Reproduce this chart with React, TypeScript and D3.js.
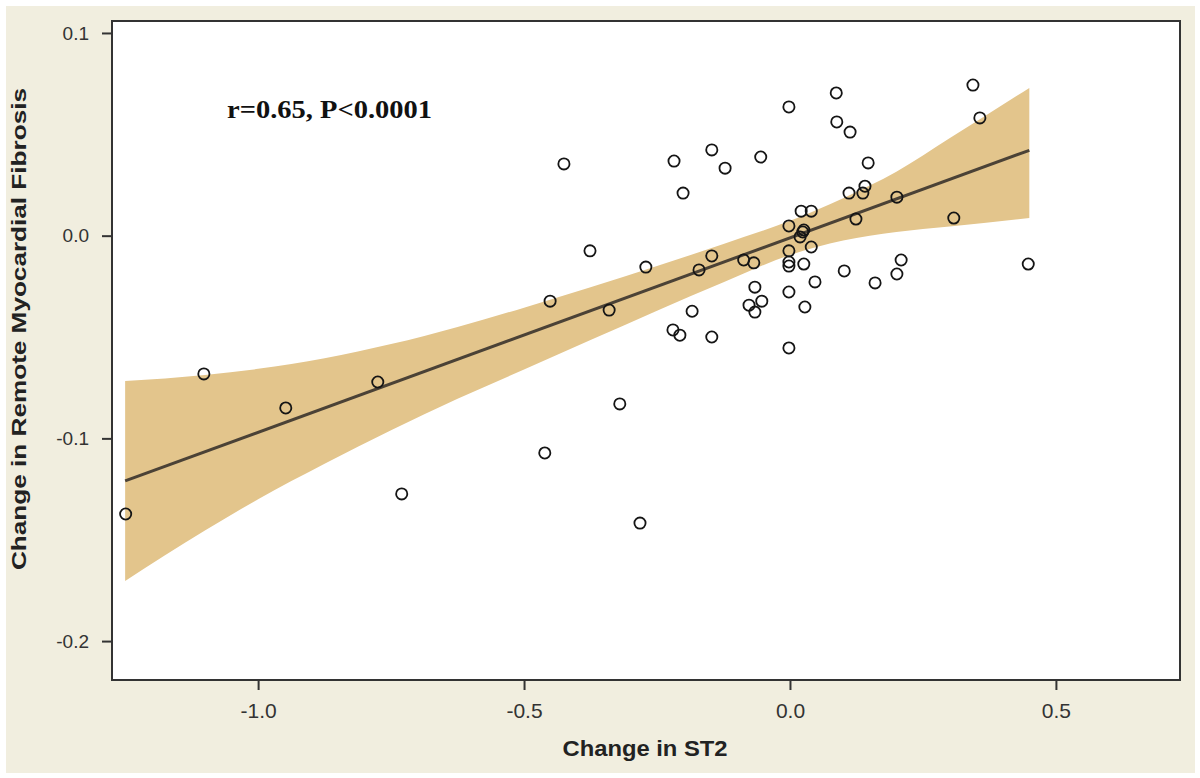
import React, { useRef, useEffect } from 'react';
import * as d3 from 'd3';

// scatter points: change in ST2 vs change in remote myocardial fibrosis
const st2Change = [
  -1.249, -1.102, -0.948, -0.775, -0.730, -0.461, -0.451, -0.425, -0.376, -0.340,
  -0.320, -0.282, -0.271, -0.218, -0.220, -0.207, -0.201, -0.184, -0.171, -0.147,
  -0.147, -0.147, -0.122, -0.087, -0.077, -0.068, -0.066, -0.066, -0.055, -0.053,
  -0.002, -0.002, -0.002, -0.002, -0.002, -0.002, -0.002, 0.021, 0.019, 0.024,
  0.026, 0.026, 0.028, 0.040, 0.040, 0.047, 0.087, 0.088, 0.102, 0.113,
  0.111, 0.124, 0.137, 0.141, 0.147, 0.160, 0.201, 0.201, 0.209, 0.308,
  0.344, 0.357, 0.448,
];
const fibrosisChange = [
  -0.1373, -0.0682, -0.0850, -0.0722, -0.1274, -0.1072, -0.0323, 0.0354, -0.0075, -0.0367,
  -0.0830, -0.1418, -0.0155, 0.0368, -0.0465, -0.0491, 0.0210, -0.0373, -0.0169, 0.0423,
  -0.0100, -0.0500, 0.0333, -0.0120, -0.0343, -0.0134, -0.0254, -0.0377, 0.0388, -0.0323,
  0.0635, 0.0048, -0.0075, -0.0130, -0.0150, -0.0278, -0.0554, 0.0121, -0.0006, 0.0018,
  0.0028, -0.0140, -0.0352, 0.0121, -0.0056, -0.0228, 0.0704, 0.0561, -0.0174, 0.0511,
  0.0210, 0.0082, 0.0210, 0.0244, 0.0359, -0.0233, 0.0190, -0.0189, -0.0120, 0.0087,
  0.0743, 0.0581, -0.0140,
];

// fitted line end points
const fitX = [-1.25, 0.45];
const fitY = [-0.121, 0.0421];

// 95% confidence band
const bandX = [-1.25, -1.1, -1.0, -0.875, -0.75, -0.625, -0.5, -0.375, -0.25, -0.125, 0, 0.1, 0.2, 0.3, 0.45];
const bandUpper = [-0.0717, -0.0687, -0.0657, -0.0605, -0.0535, -0.0450, -0.0355, -0.0255, -0.0150, -0.0041, 0.0073, 0.0185, 0.0315, 0.0480, 0.0729];
const bandLower = [-0.1703, -0.1455, -0.1300, -0.1125, -0.0960, -0.0805, -0.0660, -0.0515, -0.0370, -0.0230, -0.0095, -0.0024, 0.0018, 0.0045, 0.0087];

const xTicks = [-1.0, -0.5, 0.0, 0.5];
const yTicks = [0.1, 0.0, -0.1, -0.2];

const App: React.FC = () => {
  const svgRef = useRef<SVGSVGElement | null>(null);
  const width = 1200;
  const height = 778;

  useEffect(() => {
    if (!svgRef.current) return;
    const svg = d3.select(svgRef.current);
    svg.selectAll('*').remove();

    const plot = { left: 112, top: 21, right: 1180, bottom: 680 };

    // outer panel
    svg.append('rect').attr('width', width).attr('height', height).attr('fill', '#ffffff');
    svg.append('rect')
      .attr('x', 6).attr('y', 6)
      .attr('width', 1189).attr('height', 767)
      .attr('fill', '#f1eedf');
    svg.append('rect')
      .attr('x', plot.left).attr('y', plot.top)
      .attr('width', plot.right - plot.left).attr('height', plot.bottom - plot.top)
      .attr('fill', '#ffffff');

    const xScale = d3.scaleLinear().domain([-1.2747, 0.7333]).range([plot.left, plot.right]);
    const yScale = d3.scaleLinear().domain([-0.2192, 0.1059]).range([plot.bottom, plot.top]);

    // confidence band
    const bandData = bandX.map((x, i) => ({ x, lo: bandLower[i], hi: bandUpper[i] }));
    const area = d3.area<{ x: number; lo: number; hi: number }>()
      .x(d => xScale(d.x))
      .y0(d => yScale(d.lo))
      .y1(d => yScale(d.hi))
      .curve(d3.curveMonotoneX);
    svg.append('path')
      .datum(bandData)
      .attr('fill', '#e3c58c')
      .attr('d', area);

    // regression line
    const line = d3.line<number>()
      .x((d, i) => xScale(fitX[i]))
      .y(d => yScale(d));
    svg.append('path')
      .datum(fitY)
      .attr('fill', 'none')
      .attr('stroke', '#4b4236')
      .attr('stroke-width', 3)
      .attr('d', line);

    // points
    svg.append('g')
      .selectAll('circle')
      .data(st2Change.map((x, i) => ({ x, y: fibrosisChange[i] })))
      .enter()
      .append('circle')
      .attr('cx', d => xScale(d.x))
      .attr('cy', d => yScale(d.y))
      .attr('r', 5.6)
      .attr('fill', 'none')
      .attr('stroke', '#151515')
      .attr('stroke-width', 1.8);

    // frame
    svg.append('rect')
      .attr('x', plot.left).attr('y', plot.top)
      .attr('width', plot.right - plot.left).attr('height', plot.bottom - plot.top)
      .attr('fill', 'none')
      .attr('stroke', '#333333')
      .attr('stroke-width', 2);

    // axes
    const xAxis = d3.axisBottom(xScale)
      .tickValues(xTicks)
      .tickSize(10)
      .tickPadding(13)
      .tickFormat(d => (d as number).toFixed(1));
    const gx = svg.append('g')
      .attr('transform', `translate(0,${plot.bottom})`)
      .call(xAxis);
    gx.select('.domain').remove();
    gx.selectAll('.tick line').attr('stroke', '#333333').attr('stroke-width', 2);
    gx.selectAll('.tick text')
      .attr('fill', '#333333')
      .attr('font-family', 'Liberation Sans, Arial, sans-serif')
      .attr('font-size', '21px');

    const yAxis = d3.axisLeft(yScale)
      .tickValues(yTicks)
      .tickSize(10)
      .tickPadding(13)
      .tickFormat(d => (d as number).toFixed(1));
    const gy = svg.append('g')
      .attr('transform', `translate(${plot.left},0)`)
      .call(yAxis);
    gy.select('.domain').remove();
    gy.selectAll('.tick line').attr('stroke', '#333333').attr('stroke-width', 2);
    gy.selectAll('.tick text')
      .attr('fill', '#333333')
      .attr('font-family', 'Liberation Sans, Arial, sans-serif')
      .attr('font-size', '19px');

    // axis titles
    svg.append('text')
      .attr('x', 645)
      .attr('y', 756)
      .attr('text-anchor', 'middle')
      .attr('font-family', 'Liberation Sans, Arial, sans-serif')
      .attr('font-weight', 'bold')
      .attr('font-size', '22px')
      .attr('fill', '#222222')
      .attr('textLength', 165)
      .attr('lengthAdjust', 'spacingAndGlyphs')
      .text('Change in ST2');

    svg.append('text')
      .attr('transform', 'translate(26,329) rotate(-90)')
      .attr('text-anchor', 'middle')
      .attr('font-family', 'Liberation Sans, Arial, sans-serif')
      .attr('font-weight', 'bold')
      .attr('font-size', '21px')
      .attr('fill', '#222222')
      .attr('textLength', 482)
      .attr('lengthAdjust', 'spacingAndGlyphs')
      .text('Change in Remote Myocardial Fibrosis');

    // correlation note
    svg.append('text')
      .attr('x', 227)
      .attr('y', 118)
      .attr('font-family', 'Liberation Serif, Times New Roman, serif')
      .attr('font-weight', 'bold')
      .attr('font-size', '26px')
      .attr('fill', '#111111')
      .attr('textLength', 205)
      .attr('lengthAdjust', 'spacingAndGlyphs')
      .text('r=0.65, P<0.0001');
  }, []);

  return (
    <svg
      ref={svgRef}
      width={width}
      height={height}
      style={{ position: 'absolute', left: 0, top: 0 }}
    />
  );
};

export default App;
